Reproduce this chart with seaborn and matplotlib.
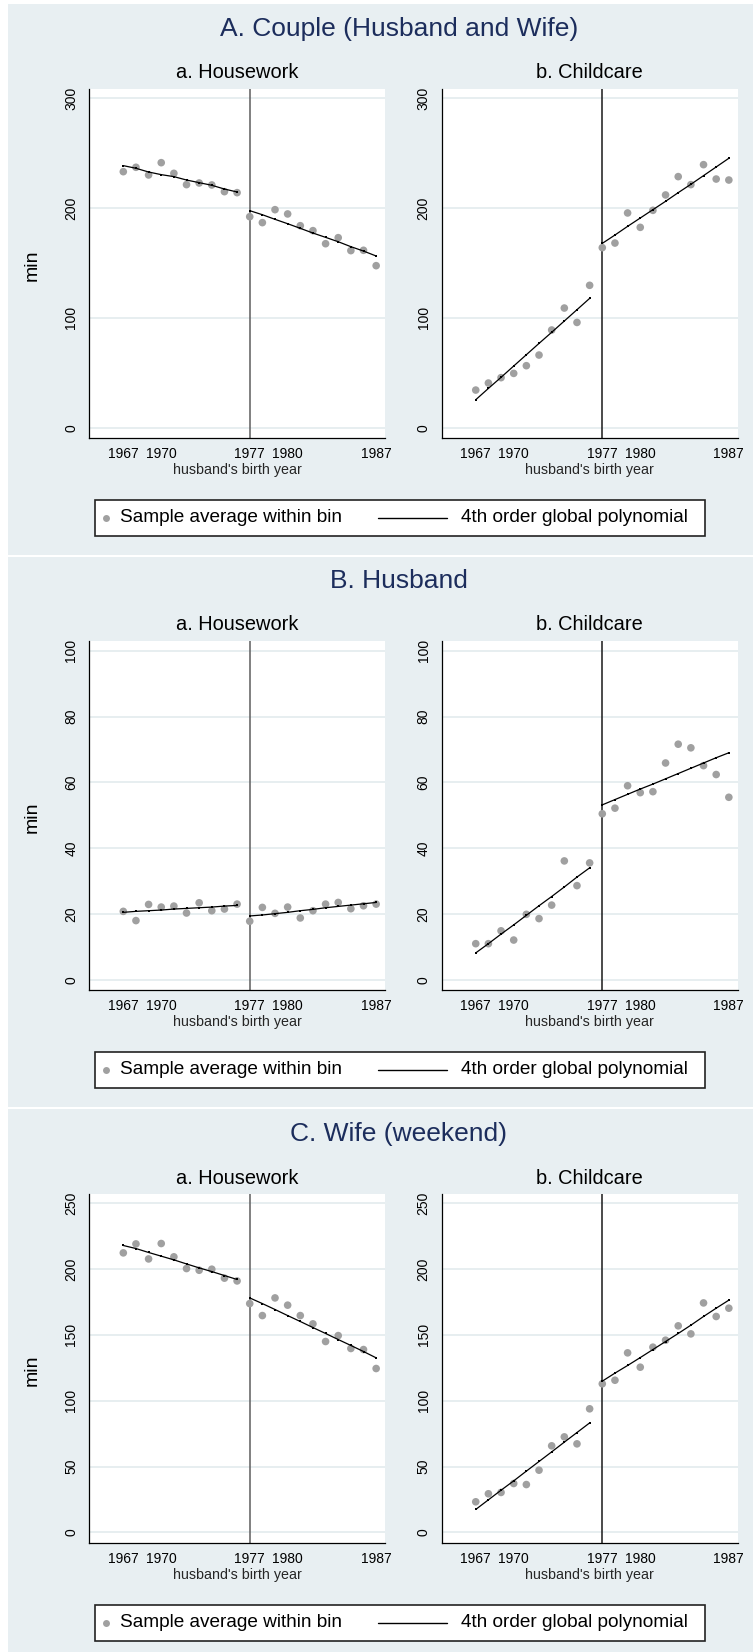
import matplotlib
matplotlib.use("Agg")
import matplotlib.pyplot as plt
from matplotlib.lines import Line2D
from matplotlib.patches import Rectangle
import pandas as pd
import seaborn as sns

# ---------------------------------------------------------------- data
YEARS_PRE = [1967, 1968, 1969, 1970, 1971, 1972, 1973, 1974, 1975, 1976]
YEARS_POST = [1977, 1978, 1979, 1980, 1981, 1982, 1983, 1984, 1985, 1986, 1987]
CUTOFF = 1977
X_TICKS = [1967, 1970, 1977, 1980, 1987]

# A. Couple (husband and wife)
couple_hw_bin_pre = [233.2, 237.2, 230.2, 241.4, 231.7, 221.4, 222.9, 221.1, 215.0, 214.1]
couple_hw_bin_post = [192.2, 186.8, 198.6, 194.7, 184.0, 179.5, 167.6, 173.1, 161.3, 161.6, 147.6]
couple_hw_fit_pre = [238.7, 236.3, 232.9, 230.5, 228.7, 225.6, 223.2, 220.8, 217.4, 214.7]
couple_hw_fit_post = [197.7, 194.0, 189.8, 185.8, 181.6, 177.3, 173.4, 169.4, 164.9, 160.9, 156.4]
couple_cc_bin_pre = [34.3, 40.7, 45.6, 49.5, 56.5, 66.2, 89.0, 109.0, 95.9, 129.7]
couple_cc_bin_post = [164.0, 168.2, 195.6, 182.5, 198.0, 212.0, 228.7, 221.4, 239.6, 226.5, 225.6]
couple_cc_fit_pre = [25.5, 35.8, 45.9, 56.2, 66.5, 76.8, 86.9, 97.2, 107.5, 117.8]
couple_cc_fit_post = [167.9, 175.5, 183.4, 191.0, 198.6, 206.2, 214.1, 221.7, 229.6, 237.5, 245.4]

# B. Husband
husband_hw_bin_pre = [20.9, 18.1, 23.0, 22.2, 22.5, 20.4, 23.5, 21.1, 21.6, 23.1]
husband_hw_bin_post = [17.9, 22.1, 20.3, 22.2, 18.9, 21.1, 23.1, 23.6, 21.7, 22.6, 23.1]
husband_hw_fit_pre = [20.6, 20.9, 21.1, 21.3, 21.6, 21.8, 22.0, 22.2, 22.5, 22.7]
husband_hw_fit_post = [19.5, 19.8, 20.2, 20.6, 21.1, 21.5, 22.0, 22.4, 22.8, 23.2, 23.6]
husband_cc_bin_pre = [11.1, 11.1, 15.0, 12.2, 20.0, 18.7, 22.8, 36.2, 28.7, 35.6]
husband_cc_bin_post = [50.5, 52.2, 59.0, 56.9, 57.2, 65.9, 71.6, 70.5, 65.1, 62.4, 55.5]
husband_cc_fit_pre = [8.3, 11.1, 14.0, 16.8, 19.7, 22.6, 25.4, 28.3, 31.3, 34.1]
husband_cc_fit_post = [53.2, 54.8, 56.4, 58.0, 59.5, 61.1, 62.7, 64.3, 65.9, 67.5, 69.0]

# C. Wife (weekend)
wife_hw_bin_pre = [212.3, 219.1, 207.7, 219.4, 209.3, 200.4, 199.1, 199.9, 193.1, 191.0]
wife_hw_bin_post = [173.8, 164.7, 178.1, 172.6, 164.7, 158.4, 145.0, 149.5, 139.7, 138.9, 124.5]
wife_hw_fit_pre = [217.9, 215.6, 212.6, 209.8, 207.0, 203.9, 200.9, 198.1, 195.1, 192.1]
wife_hw_fit_post = [178.1, 173.8, 169.3, 164.7, 160.2, 155.6, 151.1, 146.5, 142.0, 137.4, 132.6]
wife_cc_bin_pre = [23.3, 29.4, 30.4, 37.2, 36.4, 47.3, 65.8, 72.6, 67.3, 93.9]
wife_cc_bin_post = [112.9, 115.6, 136.4, 125.5, 140.7, 146.0, 156.9, 150.8, 174.3, 164.0, 170.3]
wife_cc_fit_pre = [17.5, 24.8, 32.1, 39.2, 46.6, 53.9, 61.2, 68.6, 75.9, 83.2]
wife_cc_fit_post = [114.9, 121.0, 126.8, 132.8, 138.9, 145.0, 151.1, 157.4, 164.0, 170.3, 176.4]

PANEL_TITLES = ["A. Couple (Husband and Wife)", "B. Husband", "C. Wife (weekend)"]
SUB_TITLES = ["a. Housework", "b. Childcare"]
Y_TICKS = [[0, 100, 200, 300], [0, 20, 40, 60, 80, 100], [0, 50, 100, 150, 200, 250]]
Y_LIMS = [(-8.9, 308.5), (-2.8, 102.9), (-7.6, 257.0)]
LEGEND_LABELS = ["Sample average within bin", "4th order global polynomial"]

# ---------------------------------------------------------------- style
sns.set_theme(style="white")
plt.rcParams["font.family"] = ["Liberation Sans", "DejaVu Sans"]

BG = "#E8EFF2"
GRID = "#E3EBEE"
DOT = "#A0A0A0"
NAVY = "#1C2D5C"

W, H = 753, 1652
fig = plt.figure(figsize=(W / 100, H / 100), dpi=100, facecolor="white")


def fx(px):
    return px / W


def fy(py):
    return 1 - py / H


PANEL_OFFSETS = [0, 552, 1105]
BG_SPANS = [(4, 555), (557, 1107), (1109, 1652)]
AX_X = [(89.3, 385.0), (441.7, 737.7)]
AX_TOP, AX_BOTTOM = 89.0, 437.5


def draw_subplot(x0, x1, off, title, bins_pre, bins_post, fit_pre, fit_post,
                 ylim, yticks, cut_color):
    ax = fig.add_axes([fx(x0), fy(AX_BOTTOM + off), (x1 - x0) / W,
                       (AX_BOTTOM - AX_TOP) / H])
    ax.set_facecolor("white")
    for t in yticks:
        ax.axhline(t, color=GRID, lw=1.2, zorder=0)

    bins = pd.DataFrame({"year": YEARS_PRE + YEARS_POST,
                         "minutes": bins_pre + bins_post})
    sns.scatterplot(data=bins, x="year", y="minutes", ax=ax, color=DOT,
                    s=30, edgecolor="none", linewidth=0, zorder=3)
    for yrs, fit in ((YEARS_PRE, fit_pre), (YEARS_POST, fit_post)):
        seg = pd.DataFrame({"year": yrs, "minutes": fit})
        sns.lineplot(data=seg, x="year", y="minutes", ax=ax, color="black",
                     lw=0.9, marker="s", markersize=1.8, markeredgewidth=0,
                     estimator=None, sort=False, zorder=4)
    ax.axvline(CUTOFF, color=cut_color, lw=1.1, zorder=2)

    ax.set_xlim(1964.31, 1987.7)
    ax.set_ylim(*ylim)
    ax.set_xticks(X_TICKS)
    ax.set_yticks(yticks)
    ax.set_xticklabels([str(v) for v in X_TICKS])
    ax.set_yticklabels([str(v) for v in yticks])
    ax.set_xlabel("husband's birth year", fontsize=10.3, labelpad=2)
    ax.set_ylabel("")
    for side in ("top", "right"):
        ax.spines[side].set_visible(False)
    for side in ("left", "bottom"):
        ax.spines[side].set_color("black")
        ax.spines[side].set_linewidth(0.9)
    ax.tick_params(axis="both", direction="out", length=4, width=0.8,
                   color="black", labelsize=10, labelcolor="black")
    ax.tick_params(axis="x", pad=2.5)
    ax.tick_params(axis="y", labelrotation=90, pad=4)
    for lbl in ax.get_yticklabels():
        lbl.set_va("center")
    ax.grid(False)

    fig.text(fx((x0 + x1) / 2), fy(73 + off), title, ha="center",
             va="center", fontsize=14.4, color="black")
    return ax


panels = [
    (couple_hw_bin_pre, couple_hw_bin_post, couple_hw_fit_pre, couple_hw_fit_post,
     couple_cc_bin_pre, couple_cc_bin_post, couple_cc_fit_pre, couple_cc_fit_post),
    (husband_hw_bin_pre, husband_hw_bin_post, husband_hw_fit_pre, husband_hw_fit_post,
     husband_cc_bin_pre, husband_cc_bin_post, husband_cc_fit_pre, husband_cc_fit_post),
    (wife_hw_bin_pre, wife_hw_bin_post, wife_hw_fit_pre, wife_hw_fit_post,
     wife_cc_bin_pre, wife_cc_bin_post, wife_cc_fit_pre, wife_cc_fit_post),
]

for i, series in enumerate(panels):
    off = PANEL_OFFSETS[i]
    top, bottom = BG_SPANS[i]
    fig.add_artist(Rectangle((fx(8), fy(bottom)), 1 - fx(8), (bottom - top) / H,
                             transform=fig.transFigure, facecolor=BG,
                             edgecolor="none", zorder=-10))

    draw_subplot(*AX_X[0], off, SUB_TITLES[0], *series[:4],
                 Y_LIMS[i], Y_TICKS[i], "#5E5E5E")
    draw_subplot(*AX_X[1], off, SUB_TITLES[1], *series[4:],
                 Y_LIMS[i], Y_TICKS[i], "#1A1A1A")

    fig.text(fx(399), fy(29 + off), PANEL_TITLES[i], ha="center",
             va="center", fontsize=19, color=NAVY)
    fig.text(fx(32), fy(265 + off), "min", ha="center", va="center",
             rotation=90, fontsize=14, color="black")

    # legend box shared by the two subplots
    lt, lb = 500 + off, 535.5 + off
    fig.add_artist(Rectangle((fx(94.5), fy(lb)), fx(705) - fx(94.5), (lb - lt) / H,
                             transform=fig.transFigure, facecolor="white",
                             edgecolor="#222222", linewidth=1.2, zorder=5))
    ymid = fy((lt + lb) / 2)
    fig.add_artist(Line2D([fx(105.7)], [ymid], marker="o", markersize=5,
                          color=DOT, markeredgewidth=0, linestyle="none",
                          transform=fig.transFigure, zorder=6))
    fig.text(fx(120), ymid, LEGEND_LABELS[0], ha="left", va="center",
             fontsize=13.7, color="black", zorder=6)
    fig.add_artist(Line2D([fx(378), fx(447)], [ymid, ymid], color="black",
                          lw=1.0, transform=fig.transFigure, zorder=6))
    fig.text(fx(461), ymid, LEGEND_LABELS[1], ha="left", va="center",
             fontsize=13.7, color="black", zorder=6)

fig.savefig("out.png", dpi=100, facecolor="white")
